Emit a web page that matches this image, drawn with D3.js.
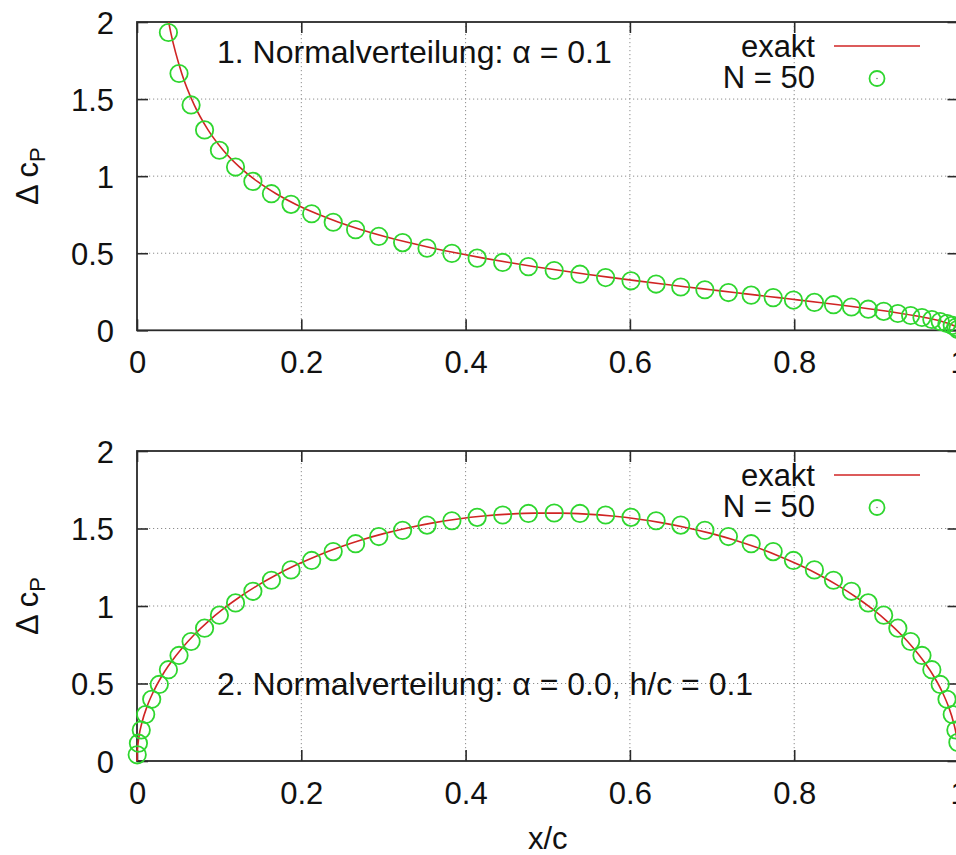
<!DOCTYPE html>
<html>
<head>
<meta charset="utf-8">
<script src="https://cdn.jsdelivr.net/npm/d3@7"></script>
<style>
body{margin:0;background:#fff}
svg{display:block}
text{font-family:"Liberation Sans",Arial,Helvetica,sans-serif}
</style>
</head>
<body>
<svg id="chart" width="956" height="855"></svg>
<script>
// ---- data ----
const xTicks = [0, 0.2, 0.4, 0.6, 0.8, 1];
const xTickLabels = ["0", "0.2", "0.4", "0.6", "0.8", "1"];
const yTicks = [0, 0.5, 1, 1.5, 2];
const yTickLabels = ["0", "0.5", "1", "1.5", "2"];
const titles = ["1. Normalverteilung: \u03b1 = 0.1", "2. Normalverteilung: \u03b1 = 0.0, h/c = 0.1"];
const legendLabels = ["exakt", "N = 50"];
const xLabel = "x/c";

// N = 50 panel solution: x positions of the points
const xNum = [0.000247,0.001726,0.005171,0.010569,0.017899,0.027132,0.038231,0.051151,0.065844,0.082250,
  0.100305,0.119936,0.141069,0.163617,0.187493,0.212602,0.238846,0.266120,0.294317,0.323327,
  0.353033,0.383319,0.414065,0.445151,0.476454,0.507849,0.539213,0.570423,0.601355,0.631886,
  0.661897,0.691269,0.719887,0.747636,0.774408,0.799098,0.824603,0.847827,0.869677,0.890070,
  0.908922,0.926161,0.941718,0.955533,0.967548,0.977719,0.986005,0.992372,0.996796,0.999260];
// panel 1 (first six points lie above the plotted range)
const yNum1 = [null,null,null,null,null,null,1.932,1.666,1.462,1.300,
  1.168,1.059,0.966,0.886,0.817,0.756,0.701,0.653,0.609,0.569,
  0.533,0.499,0.468,0.440,0.413,0.388,0.364,0.342,0.321,0.300,
  0.281,0.263,0.245,0.228,0.212,0.196,0.181,0.166,0.151,0.137,
  0.123,0.109,0.096,0.083,0.070,0.057,0.044,0.032,0.019,0.006];
// panel 2
const yNum2 = [0.040,0.115,0.200,0.300,0.398,0.494,0.589,0.681,0.771,0.857,
  0.941,1.020,1.095,1.166,1.233,1.294,1.351,1.402,1.448,1.488,
  1.522,1.550,1.572,1.587,1.597,1.600,1.597,1.587,1.572,1.550,
  1.522,1.488,1.448,1.402,1.351,1.294,1.233,1.166,1.095,1.020,
  0.941,0.857,0.771,0.681,0.589,0.494,0.398,0.300,0.200,0.120];

// exact solution sample points
const xExact = [0,0.000247,0.002219,0.006156,0.012042,0.019853,0.029560,0.0385,0.041123,0.054497,
  0.069629,0.086460,0.104923,0.124944,0.146447,0.169344,0.193546,0.218958,0.245479,0.273005,
  0.301426,0.330631,0.360504,0.390928,0.421783,0.452946,0.484295,0.515705,0.547054,0.578217,
  0.609072,0.639496,0.669369,0.698574,0.726995,0.754521,0.781042,0.806454,0.830656,0.853553,
  0.875056,0.895077,0.913540,0.930371,0.945503,0.958877,0.970440,0.980147,0.987958,0.993844,
  0.997781,0.999753,1];
const yExact1 = [null,null,null,null,null,null,null,2.0,1.9315,1.6661,
  1.4621,1.3002,1.1683,1.0585,0.9657,0.8859,0.8165,0.7555,0.7013,0.6527,
  0.6089,0.5691,0.5327,0.4993,0.4683,0.4396,0.4128,0.3876,0.3640,0.3416,
  0.3205,0.3003,0.2811,0.2628,0.2451,0.2282,0.2118,0.1960,0.1806,0.1657,
  0.1512,0.1369,0.1231,0.1094,0.0960,0.0828,0.0698,0.0569,0.0442,0.0315,
  0.0189,0.0063,0];
const yExact2 = [0,0.0503,0.1506,0.2503,0.3490,0.4464,0.5420,0.6157,0.6354,0.7264,
  0.8145,0.8993,0.9807,1.0581,1.1314,1.2002,1.2642,1.3233,1.3772,1.4256,
  1.4684,1.5054,1.5365,1.5615,1.5803,1.5929,1.5992,1.5992,1.5929,1.5803,
  1.5615,1.5365,1.5054,1.4684,1.4256,1.3772,1.3233,1.2642,1.2002,1.1314,
  1.0581,0.9807,0.8993,0.8145,0.7264,0.6354,0.5420,0.4464,0.3490,0.2503,
  0.1506,0.0503,0];

// ---- drawing ----
const FS = 31;
const svg = d3.select("#chart");
svg.append("rect").attr("width", 956).attr("height", 855).attr("fill", "#fff");

const x = d3.scaleLinear().domain([0, 1]).range([137, 958.5]);
const lineColor = "#d02424";
const ptColor = "#2fd62f";
const axisColor = "#2a2a2a";
const textColor = "#111";

const panels = [
  {top: 22, bottom: 330.3, yn: yNum1, ye: yExact1, title: titles[0], titleY: 62.5},
  {top: 451, bottom: 761, yn: yNum2, ye: yExact2, title: titles[1], titleY: 695}
];

function styleAxis(sel) {
  sel.attr("font-size", null).attr("font-family", null);
  sel.select(".domain").remove();
  sel.selectAll(".tick line").attr("stroke", axisColor).attr("stroke-width", 1.6);
  sel.selectAll(".tick text").attr("fill", textColor).attr("font-size", FS);
}

panels.forEach((p, pi) => {
  const y = d3.scaleLinear().domain([0, 2]).range([p.bottom, p.top]);
  const g = svg.append("g");

  // grid
  g.append("g").selectAll("line").data(xTicks.filter(v => v > 0 && v < 1)).join("line")
    .attr("x1", d => x(d)).attr("x2", d => x(d)).attr("y1", p.top).attr("y2", p.bottom)
    .attr("stroke", "#8c8c8c").attr("stroke-width", 1).attr("stroke-dasharray", "1.2,2.8");
  g.append("g").selectAll("line").data(yTicks.filter(v => v > 0 && v < 2)).join("line")
    .attr("x1", x(0)).attr("x2", x(1)).attr("y1", d => y(d)).attr("y2", d => y(d))
    .attr("stroke", "#8c8c8c").attr("stroke-width", 1).attr("stroke-dasharray", "1.2,2.8");

  // axes (inward ticks, mirrored on top/right)
  g.append("g").attr("transform", `translate(0,${p.bottom})`)
    .call(d3.axisBottom(x).tickValues(xTicks).tickFormat((d, i) => xTickLabels[i])
      .tickSize(-11).tickSizeOuter(0).tickPadding(21))
    .call(styleAxis);
  g.append("g").attr("transform", `translate(0,${p.top})`)
    .call(d3.axisTop(x).tickValues(xTicks).tickFormat("").tickSize(-11).tickSizeOuter(0))
    .call(styleAxis);
  g.append("g").attr("transform", `translate(${x(0)},0)`)
    .call(d3.axisLeft(y).tickValues(yTicks).tickFormat((d, i) => yTickLabels[i])
      .tickSize(-11).tickSizeOuter(0).tickPadding(23))
    .call(styleAxis)
    .call(s => s.selectAll(".tick text").attr("dy", "0.36em"));
  g.append("g").attr("transform", `translate(${x(1)},0)`)
    .call(d3.axisRight(y).tickValues(yTicks).tickFormat("").tickSize(-11).tickSizeOuter(0))
    .call(styleAxis);

  // frame
  g.append("rect").attr("x", x(0)).attr("y", p.top).attr("width", x(1) - x(0)).attr("height", p.bottom - p.top)
    .attr("fill", "none").attr("stroke", axisColor).attr("stroke-width", 1.8);

  // title
  g.append("text").attr("x", 217).attr("y", p.titleY).attr("font-size", 32).attr("fill", textColor).text(p.title);

  // exact line
  const line = d3.line().defined(d => d[1] != null)
    .x(d => x(d[0])).y(d => y(d[1])).curve(d3.curveMonotoneX);
  g.append("path").datum(xExact.map((v, i) => [v, p.ye[i]]))
    .attr("d", line).attr("fill", "none").attr("stroke", lineColor).attr("stroke-width", 1.6);

  // numeric points
  g.append("g").selectAll("circle")
    .data(xNum.map((v, i) => [v, p.yn[i]]).filter(d => d[1] != null && d[1] <= 2))
    .join("circle")
    .attr("cx", d => x(d[0])).attr("cy", d => y(d[1])).attr("r", 8.7)
    .attr("fill", "none").attr("stroke", ptColor).attr("stroke-width", 1.8);

  // legend
  const lg = g.append("g");
  lg.append("text").attr("x", 815).attr("y", p.top + 35).attr("text-anchor", "end")
    .attr("font-size", FS).attr("fill", textColor).text(legendLabels[0]);
  lg.append("line").attr("x1", 834).attr("x2", 920).attr("y1", p.top + 24).attr("y2", p.top + 24)
    .attr("stroke", lineColor).attr("stroke-width", 1.6);
  lg.append("text").attr("x", 815).attr("y", p.top + 66).attr("text-anchor", "end")
    .attr("font-size", FS).attr("fill", textColor).text(legendLabels[1]);
  lg.append("circle").attr("cx", 877).attr("cy", p.top + 56.5).attr("r", 7.5)
    .attr("fill", "none").attr("stroke", ptColor).attr("stroke-width", 1.8);
  lg.append("circle").attr("cx", 877).attr("cy", p.top + 56.5).attr("r", 0.8).attr("fill", "#7a7a7a");

  // y label
  const yl = g.append("text")
    .attr("transform", `translate(38,${(p.top + p.bottom) / 2}) rotate(-90)`)
    .attr("text-anchor", "middle").attr("font-size", FS).attr("fill", textColor);
  yl.append("tspan").text("\u0394 c");
  yl.append("tspan").attr("font-size", 22).attr("dy", 7).text("P");
});

// x label
svg.append("text").attr("x", x(0.5)).attr("y", 849).attr("text-anchor", "middle")
  .attr("font-size", FS).attr("fill", textColor).text(xLabel);
</script>
</body>
</html>
